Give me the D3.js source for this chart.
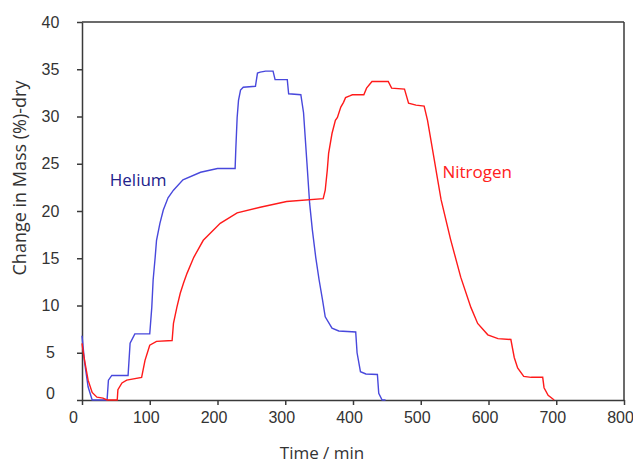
<!DOCTYPE html>
<html>
<head>
<meta charset="utf-8">
<script src="https://cdn.jsdelivr.net/npm/d3@7"></script>
<style>
  body { margin: 0; background: #fff; }
  svg { display: block; font-family: "Open Sans", sans-serif; }
</style>
</head>
<body>
<div id="chart"></div>
<script>
// Helium run: time (min) and change in mass (%)
const heliumTime = [0, 4, 9, 15, 37, 39, 44, 68, 71, 78, 100, 103, 105, 108, 110, 115, 120, 127, 135, 149,
  175, 200, 226, 227, 229, 231, 234, 238, 256, 259, 263, 271, 282, 285, 303, 305, 323, 327, 332, 336,
  340, 345, 350, 355, 359, 369, 379, 404, 406, 411, 419, 436, 438, 443, 448];
const heliumMass = [6.8, 3.9, 1.4, 0, 0, 2.1, 2.6, 2.6, 6.0, 7.0, 7.0, 9.8, 12.7, 15.1, 16.9, 18.7, 20.1, 21.4, 22.2, 23.3,
  24.1, 24.5, 24.5, 26.5, 29.9, 31.7, 32.8, 33.1, 33.2, 34.6, 34.7, 34.8, 34.8, 33.9, 33.9, 32.4, 32.3, 30.4, 25.1, 20.8,
  18.0, 15.1, 12.7, 10.6, 8.8, 7.6, 7.3, 7.2, 5.0, 3.0, 2.75, 2.7, 0.7, 0, 0];

// Nitrogen run
const nitrogenTime = [0, 3, 9, 15, 22, 31, 37, 52, 53, 59, 66, 88, 93, 100, 110, 133, 135, 140, 145, 150,
  155, 165, 179, 204, 229, 263, 302, 356, 359, 362, 364, 369, 374, 377, 382, 386, 389, 396, 399, 416,
  420, 428, 452, 457, 476, 482, 493, 505, 510, 515, 520, 525, 530, 544, 559, 574, 584, 599, 614, 633,
  638, 643, 652, 663, 680, 682, 688, 697];
const nitrogenMass = [6.0, 4.5, 2.1, 0.8, 0.3, 0.2, 0, 0, 1.1, 1.8, 2.1, 2.4, 4.2, 5.8, 6.2, 6.3, 8.1, 9.8, 11.3, 12.4,
  13.4, 15.1, 16.9, 18.7, 19.8, 20.4, 21.0, 21.3, 22.2, 24.3, 26.1, 28.2, 29.6, 29.9, 31.0, 31.5, 32.0, 32.2, 32.3, 32.3,
  33.0, 33.7, 33.7, 33.0, 32.9, 31.4, 31.2, 31.1, 29.6, 27.5, 25.4, 23.3, 21.2, 17.0, 13.0, 9.8, 8.1, 6.9, 6.5, 6.4,
  4.5, 3.4, 2.5, 2.4, 2.4, 1.3, 0.5, 0];

const xTicks = [0, 100, 200, 300, 400, 500, 600, 700, 800];
const yTicks = [0, 5, 10, 15, 20, 25, 30, 35, 40];

// Dimensions
const W = 633, H = 466;
const margin = { top: 22, right: 9, bottom: 66, left: 82 };
const width = W - margin.left - margin.right;
const height = H - margin.top - margin.bottom;

const svg = d3.select('#chart').append('svg')
  .attr('width', W)
  .attr('height', H);

const g = svg.append('g')
  .attr('transform', `translate(${margin.left},${margin.top})`);

const x = d3.scaleLinear().domain([0, 800]).range([0, width]);
const y = d3.scaleLinear().domain([0, 40]).range([height, 0]);

const axisColor = '#3a3a3a';
const labelColor = '#333';

// Box lines (top and right)
g.append('line')
  .attr('x1', 0).attr('x2', width).attr('y1', 0).attr('y2', 0)
  .attr('stroke', axisColor).attr('stroke-width', 1.5);
g.append('line')
  .attr('x1', width).attr('x2', width).attr('y1', 0).attr('y2', height)
  .attr('stroke', axisColor).attr('stroke-width', 1.5);

// X axis
const xAxis = g.append('g')
  .attr('transform', `translate(0,${height})`)
  .call(d3.axisBottom(x).tickValues(xTicks).tickSize(5).tickPadding(7).tickSizeOuter(0));
xAxis.selectAll('text')
  .attr('dx', d => d === 0 ? '-9' : '-4')
  .style('font-size', '16px')
  .attr('fill', labelColor);

// Y axis
const yAxis = g.append('g')
  .call(d3.axisLeft(y).tickValues(yTicks).tickSize(5).tickSizeOuter(0));
yAxis.selectAll('text')
  .attr('x', -31.5)
  .attr('dy', d => d === 0 ? '-0.1em' : '0.32em')
  .style('text-anchor', 'middle')
  .style('font-size', '16px')
  .attr('fill', labelColor);

g.selectAll('.domain, .tick line')
  .attr('stroke', axisColor)
  .attr('stroke-width', 1.5);

// Lines
const line = d3.line()
  .x(d => x(d[0]))
  .y(d => y(d[1]));

const heliumData = heliumTime.map((t, i) => [t, heliumMass[i]]);
const nitrogenData = nitrogenTime.map((t, i) => [t, nitrogenMass[i]]);

g.append('path')
  .datum(heliumData)
  .attr('fill', 'none')
  .attr('stroke', '#4848dc')
  .attr('stroke-width', 1.4)
  .attr('d', line);

g.append('path')
  .datum(nitrogenData)
  .attr('fill', 'none')
  .attr('stroke', '#ff1a1a')
  .attr('stroke-width', 1.4)
  .attr('d', line);

// Series labels
g.append('text')
  .attr('x', x(41))
  .attr('y', y(22.6))
  .style('font-size', '17px')
  .attr('fill', '#22228c')
  .text('Helium');

g.append('text')
  .attr('x', x(532))
  .attr('y', y(23.5))
  .style('font-size', '17px')
  .attr('fill', '#ff2020')
  .text('Nitrogen');

// Axis titles
svg.append('text')
  .attr('x', 322)
  .attr('y', 459)
  .attr('text-anchor', 'middle')
  .style('font-size', '17px')
  .attr('fill', labelColor)
  .text('Time / min');

svg.append('text')
  .attr('transform', 'rotate(-90)')
  .attr('x', -178)
  .attr('y', 26)
  .attr('text-anchor', 'middle')
  .style('font-size', '18px')
  .attr('fill', labelColor)
  .text('Change in Mass (%)-dry');
</script>
</body>
</html>
